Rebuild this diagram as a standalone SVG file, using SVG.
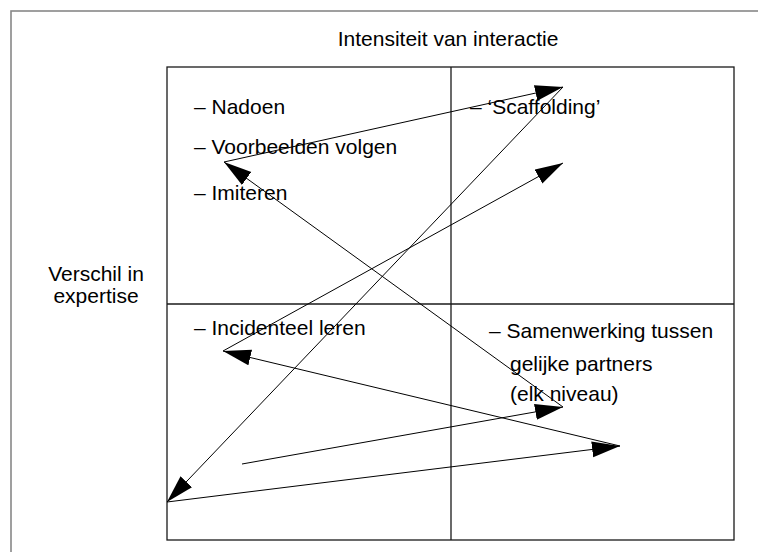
<svg xmlns="http://www.w3.org/2000/svg" width="758" height="552" viewBox="0 0 758 552">
<style>
text{font-family:"Liberation Sans",Arial,sans-serif;font-size:21px;fill:#000}
.frame{fill:none;stroke:#888;stroke-width:1.6}
.box{fill:none;stroke:#1a1a1a;stroke-width:1.3}
.con{stroke:#000;stroke-width:1;fill:none;marker-end:url(#ah)}
</style>
<defs>
<marker id="ah" markerUnits="userSpaceOnUse" markerWidth="30" markerHeight="18" refX="28" refY="8" orient="auto">
<path d="M0,0 L28,8 L0,16 Z" fill="#000"/>
</marker>
</defs>
<rect width="758" height="552" fill="#fff"/>
<rect class="frame" x="11" y="11" width="780" height="580"/>
<g id="grid">
<rect class="box" x="167" y="67" width="567" height="473"/>
<line class="box" x1="451" y1="67" x2="451" y2="540"/>
<line class="box" x1="167" y1="304" x2="734" y2="304"/>
</g>
<g id="title"><text x="448" y="46" text-anchor="middle">Intensiteit van interactie</text></g>
<g id="axis-left"><text x="96" y="281" text-anchor="middle">Verschil in</text><text x="96" y="303" text-anchor="middle">expertise</text></g>
<g id="q-top-left">
<text x="194" y="114">– Nadoen</text>
<text x="194" y="154">– Voorbeelden volgen</text>
<text x="194" y="200">– Imiteren</text>
</g>
<g id="q-top-right"><text x="470" y="114">– ‘Scaffolding’</text></g>
<g id="q-bottom-left"><text x="194" y="335">– Incidenteel leren</text></g>
<g id="q-bottom-right">
<text x="489" y="338">– Samenwerking tussen</text>
<text x="510" y="371">gelijke partners</text>
<text x="510" y="401">(elk niveau)</text>
</g>
<g id="connectors">
<line class="con" x1="242" y1="464" x2="563" y2="407"/>
<line class="con" x1="563" y1="407" x2="224" y2="162"/>
<line class="con" x1="224" y1="162" x2="563" y2="87"/>
<line class="con" x1="563" y1="87" x2="167" y2="502"/>
<line class="con" x1="167" y1="502" x2="620" y2="446"/>
<line class="con" x1="620" y1="446" x2="223" y2="351"/>
<line class="con" x1="223" y1="351" x2="563" y2="163"/>
</g>
</svg>
